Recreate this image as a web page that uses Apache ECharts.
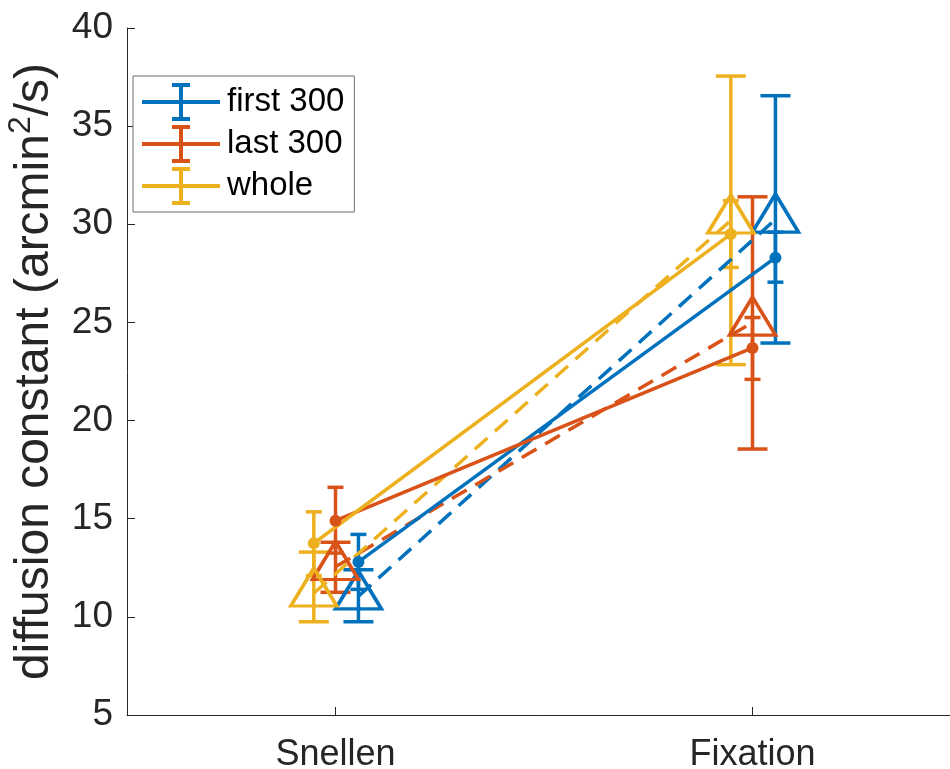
<!DOCTYPE html>
<html>
<head>
<meta charset="utf-8">
<script src="https://cdn.jsdelivr.net/npm/echarts@6/dist/echarts.min.js"></script>
<style>
  html, body { margin: 0; padding: 0; background: #fff; }
  #chart { width: 950px; height: 769px; }
</style>
</head>
<body>
<div id="chart"></div>
<script>
// Conditions on the x axis
const categories = ['Snellen', 'Fixation'];
const seriesNames = ['first 300', 'last 300', 'whole'];

// Mean diffusion constant (solid lines, filled dots) with error bounds
const firstMean = [12.8, 28.3];
const firstMeanLow = [11.4, 27.05];
const firstMeanHigh = [14.2, 29.6];

const lastMean = [14.9, 23.7];
const lastMeanLow = [13.25, 22.1];
const lastMeanHigh = [16.6, 25.25];

const wholeMean = [13.75, 29.5];
const wholeMeanLow = [12.1, 27.8];
const wholeMeanHigh = [15.35, 31.2];

// Second estimate (dashed lines, open triangles) with error bounds
const firstTri = [11.05, 30.25];
const firstTriLow = [9.75, 23.95];
const firstTriHigh = [12.4, 36.55];

const lastTri = [12.55, 25.0];
const lastTriLow = [11.25, 18.55];
const lastTriHigh = [13.8, 31.4];

const wholeTri = [11.2, 30.2];
const wholeTriLow = [9.75, 22.85];
const wholeTriHigh = [13.3, 37.55];

// y axis ticks
const yMin = 5, yMax = 40, yStep = 5;

// ---- styling ----
const FONT = '"Liberation Sans", Arial, Helvetica, sans-serif';
const AXIS_COLOR = '#262626';
const COLORS = ['#0072BD', '#D95319', '#EDB120'];
const DODGE = [0.055, 0, -0.052];   // horizontal shift of each group within a category
const LW = 3.5;
const NARROW_CAP = 16;
const WIDE_CAP = 30;
const TRI_W = 46, TRI_H = 38;

const groups = [
  { mean: firstMean, mLo: firstMeanLow, mHi: firstMeanHigh, tri: firstTri, tLo: firstTriLow, tHi: firstTriHigh },
  { mean: lastMean, mLo: lastMeanLow, mHi: lastMeanHigh, tri: lastTri, tLo: lastTriLow, tHi: lastTriHigh },
  { mean: wholeMean, mLo: wholeMeanLow, mHi: wholeMeanHigh, tri: wholeTri, tLo: wholeTriLow, tHi: wholeTriHigh }
];

function errorBarSeries(name, color, xs, lo, hi, capW) {
  return {
    type: 'custom',
    name: name + ' err',
    xAxisIndex: 1,
    yAxisIndex: 0,
    silent: true,
    z: 2,
    encode: { x: 0, y: [1, 2] },
    data: xs.map((x, i) => [x, lo[i], hi[i]]),
    renderItem: function (params, api) {
      const x = api.value(0);
      const top = api.coord([x, api.value(2)]);
      const bot = api.coord([x, api.value(1)]);
      const st = { stroke: color, lineWidth: LW, fill: null };
      return {
        type: 'group',
        children: [
          { type: 'line', shape: { x1: top[0], y1: top[1], x2: bot[0], y2: bot[1] }, style: st },
          { type: 'line', shape: { x1: top[0] - capW / 2, y1: top[1], x2: top[0] + capW / 2, y2: top[1] }, style: st },
          { type: 'line', shape: { x1: bot[0] - capW / 2, y1: bot[1], x2: bot[0] + capW / 2, y2: bot[1] }, style: st }
        ]
      };
    }
  };
}

const series = [];
groups.forEach((g, k) => {
  const color = COLORS[k];
  const xs = categories.map((c, i) => i + DODGE[k]);
  // dashed line with open triangles
  series.push(errorBarSeries(seriesNames[k] + ' tri', color, xs, g.tLo, g.tHi, WIDE_CAP));
  series.push({
    type: 'line',
    name: seriesNames[k] + ' tri',
    xAxisIndex: 1,
    yAxisIndex: 0,
    z: 3,
    data: xs.map((x, i) => [x, g.tri[i]]),
    symbol: 'triangle',
    symbolSize: [TRI_W, TRI_H],
    symbolOffset: [0, -TRI_H / 6],
    showAllSymbol: true,
    lineStyle: { color: color, width: LW, type: [17, 10] },
    itemStyle: { color: 'rgba(0,0,0,0)', borderColor: color, borderWidth: LW },
    emphasis: { disabled: true },
    animation: false
  });
  // solid line with filled dots
  series.push(errorBarSeries(seriesNames[k], color, xs, g.mLo, g.mHi, NARROW_CAP));
  series.push({
    type: 'line',
    name: seriesNames[k],
    xAxisIndex: 1,
    yAxisIndex: 0,
    z: 4,
    data: xs.map((x, i) => [x, g.mean[i]]),
    symbol: 'circle',
    symbolSize: 12,
    showAllSymbol: true,
    lineStyle: { color: color, width: LW, type: 'solid' },
    itemStyle: { color: color, borderWidth: 0 },
    emphasis: { disabled: true },
    animation: false
  });
});

// legend glyph: horizontal line crossed by an error bar with caps
const ERR_ICON = 'path://M0,17H78V21H0Z M37,2H41V36H37Z M30,0H48V4H30Z M30,34H48V38H30Z';

const chart = echarts.init(document.getElementById('chart'), null, { renderer: 'canvas' });
chart.setOption({
  animation: false,
  backgroundColor: '#ffffff',
  grid: { left: 127, right: -11, top: 28, bottom: 54, containLabel: false, outerBoundsMode: 'none' },
  legend: {
    orient: 'vertical',
    left: 133,
    top: 76,
    padding: [7, 10, 7, 9],
    itemGap: 4,
    itemWidth: 78,
    itemHeight: 38,
    selectedMode: false,
    backgroundColor: '#ffffff',
    borderColor: '#6e6e6e',
    borderWidth: 1,
    borderRadius: 0,
    data: seriesNames.map(n => ({ name: n, icon: ERR_ICON })),
    textStyle: { fontFamily: FONT, fontSize: 33, color: '#000000', padding: [0, 0, 0, 2] }
  },
  xAxis: [
    {
      type: 'category',
      data: categories,
      boundaryGap: true,
      axisLine: { show: true, onZero: false, lineStyle: { color: AXIS_COLOR, width: 1 } },
      axisTick: { show: true, inside: true, alignWithLabel: true, length: 8, lineStyle: { color: AXIS_COLOR, width: 1 } },
      axisLabel: { fontFamily: FONT, fontSize: 36, color: AXIS_COLOR, margin: 22 },
      splitLine: { show: false }
    },
    {
      type: 'value',
      min: -0.5,
      max: 1.5,
      show: false,
      splitLine: { show: false }
    }
  ],
  yAxis: {
    type: 'value',
    min: yMin,
    max: yMax,
    interval: yStep,
    axisLine: { show: true, onZero: false, lineStyle: { color: AXIS_COLOR, width: 1 } },
    axisTick: { show: true, inside: true, length: 8, lineStyle: { color: AXIS_COLOR, width: 1 } },
    axisLabel: { fontFamily: FONT, fontSize: 37, color: AXIS_COLOR, margin: 14 },
    splitLine: { show: false },
    name: '{t|diffusion constant (arcmin}{s|2}{t|/s)}',
    nameLocation: 'middle',
    nameRotate: 90,
    nameGap: 68,
    nameTextStyle: {
      rich: {
        t: { fontFamily: FONT, fontSize: 48, color: AXIS_COLOR, verticalAlign: 'bottom' },
        s: { fontFamily: FONT, fontSize: 32, color: AXIS_COLOR, verticalAlign: 'bottom', padding: [0, 0, 22, 0] }
      }
    }
  },
  series: series
});
</script>
</body>
</html>
